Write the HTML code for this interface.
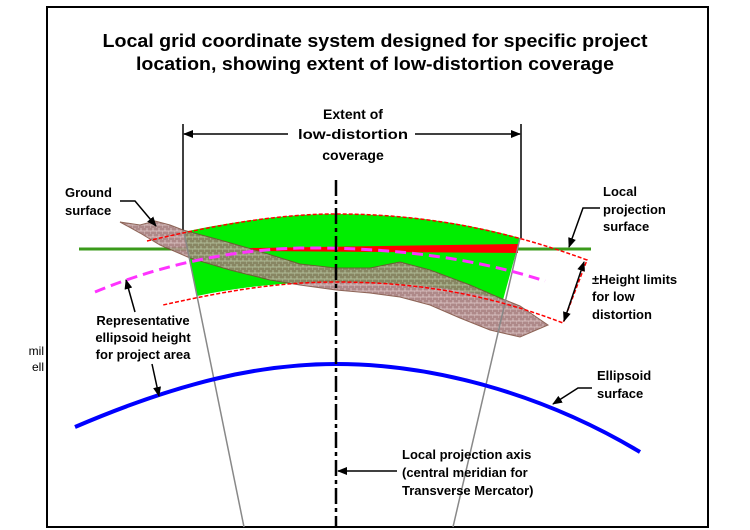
<!DOCTYPE html>
<html><head><style>
html,body{margin:0;padding:0;background:#fff;}
svg{display:block;}
text{font-family:"Liberation Sans",Arial,sans-serif;}
</style></head><body>
<svg width="750" height="530" viewBox="0 0 750 530" xmlns="http://www.w3.org/2000/svg">
<defs>
<pattern id="hatch" width="6" height="6" patternUnits="userSpaceOnUse">
<rect width="6" height="6" fill="#a07575"/>
<path d="M0 3H6M3 0V3M0 6V3" stroke="#dcc4c4" stroke-width="0.8"/>
</pattern>
<marker id="ah" markerWidth="10" markerHeight="8" refX="9" refY="4" orient="auto" markerUnits="userSpaceOnUse">
<path d="M0,0 L10,4 L0,8 Z" fill="#000"/>
</marker>
<marker id="ahs" markerWidth="10" markerHeight="8" refX="1" refY="4" orient="auto" markerUnits="userSpaceOnUse">
<path d="M10,0 L0,4 L10,8 Z" fill="#000"/>
</marker>
</defs>
<rect x="47" y="7" width="661" height="520" fill="none" stroke="#000" stroke-width="2"/>
<text x="44" y="355" font-size="12" text-anchor="end">mil</text>
<text x="44" y="371" font-size="12" text-anchor="end">ell</text>
<text x="375" y="47" font-size="18" font-weight="bold" text-anchor="middle" textLength="545" lengthAdjust="spacingAndGlyphs">Local grid coordinate system designed for specific project</text>
<text x="375" y="70" font-size="18" font-weight="bold" text-anchor="middle" textLength="478" lengthAdjust="spacingAndGlyphs">location, showing extent of low-distortion coverage</text>
<text x="353" y="119" font-size="14" font-weight="bold" text-anchor="middle">Extent of</text>
<text x="353" y="139" font-size="14" font-weight="bold" text-anchor="middle" textLength="110" lengthAdjust="spacingAndGlyphs">low-distortion</text>
<text x="353" y="160" font-size="14" font-weight="bold" text-anchor="middle">coverage</text>
<line x1="183" y1="124" x2="183" y2="232" stroke="#000" stroke-width="1.5"/>
<line x1="521" y1="124" x2="521" y2="238" stroke="#000" stroke-width="1.5"/>
<line x1="288" y1="134" x2="184" y2="134" stroke="#000" stroke-width="1.5" marker-end="url(#ah)"/>
<line x1="415" y1="134" x2="520" y2="134" stroke="#000" stroke-width="1.5" marker-end="url(#ah)"/>
<line x1="79" y1="249" x2="591" y2="249" stroke="#3a9a1a" stroke-width="3"/>
<path d="M183,232 C240,220 290,214 336,214 C410,214 470,224 520,238 L503,300 C460,288 400,282 336,282 C280,282 235,288 197,296 Z" fill="#00ee00"/>
<path d="M250,248 L518,244 L518,253 L250,251 Z" fill="#ff0000"/>
<path d="M120,222 L140,225 L155,221 L170,225 L183,230 L220,240 L255,250 L300,264 L336,268 L370,268 L400,262 L430,270 L470,285 L500,298 L520,306 L548,325 L520,337 L490,330 L460,318 L430,305 L400,297 L370,293 L336,290 L300,285 L270,280 L230,270 L190,258 L160,245 L140,233 Z" fill="url(#hatch)" opacity="0.85" stroke="#7a4a3a" stroke-width="1"/>
<line x1="184" y1="232" x2="244" y2="527" stroke="#888" stroke-width="1.5"/>
<line x1="520" y1="238" x2="453" y2="527" stroke="#888" stroke-width="1.5"/>
<path d="M95,292 C160,265 230,250 300,248 C400,247 480,260 545,281" fill="none" stroke="#ff33ff" stroke-width="3" stroke-dasharray="11,6"/>
<path d="M147,241 C220,224 280,214 336,214 C420,214 500,228 587,260 L563,323 C490,295 420,282 336,282 C280,282 230,290 163,305" fill="none" stroke="#ff0000" stroke-width="1.5" stroke-dasharray="4,2"/>
<path d="M75,427 C180,382 260,364 336,364 C430,364 540,392 640,452" fill="none" stroke="#0000ff" stroke-width="4"/>
<line x1="336" y1="180" x2="336" y2="527" stroke="#000" stroke-width="2.5" stroke-dasharray="16,4,4,4"/>
<text x="65" y="197" font-size="13" font-weight="bold">Ground</text>
<text x="65" y="215" font-size="13" font-weight="bold">surface</text>
<polyline points="120,201 135,201 156,226" fill="none" stroke="#000" stroke-width="1.5" marker-end="url(#ah)"/>
<text x="603" y="196" font-size="13" font-weight="bold">Local</text>
<text x="603" y="214" font-size="13" font-weight="bold">projection</text>
<text x="603" y="231" font-size="13" font-weight="bold">surface</text>
<polyline points="600,208 583,208 569,247" fill="none" stroke="#000" stroke-width="1.5" marker-end="url(#ah)"/>
<text x="592" y="284" font-size="13" font-weight="bold">±Height limits</text>
<text x="592" y="301" font-size="13" font-weight="bold">for low</text>
<text x="592" y="319" font-size="13" font-weight="bold">distortion</text>
<line x1="584" y1="262" x2="564" y2="321" stroke="#000" stroke-width="1.5" marker-end="url(#ah)" marker-start="url(#ahs)"/>
<text x="143" y="325" font-size="13" font-weight="bold" text-anchor="middle">Representative</text>
<text x="143" y="342" font-size="13" font-weight="bold" text-anchor="middle">ellipsoid height</text>
<text x="143" y="359" font-size="13" font-weight="bold" text-anchor="middle">for project area</text>
<line x1="135" y1="312" x2="126" y2="280" stroke="#000" stroke-width="1.5" marker-end="url(#ah)"/>
<line x1="152" y1="364" x2="159" y2="396" stroke="#000" stroke-width="1.5" marker-end="url(#ah)"/>
<text x="597" y="380" font-size="13" font-weight="bold">Ellipsoid</text>
<text x="597" y="398" font-size="13" font-weight="bold">surface</text>
<polyline points="592,388 578,388 553,404" fill="none" stroke="#000" stroke-width="1.5" marker-end="url(#ah)"/>
<text x="402" y="459" font-size="13" font-weight="bold">Local projection axis</text>
<text x="402" y="477" font-size="13" font-weight="bold">(central meridian for</text>
<text x="402" y="495" font-size="13" font-weight="bold">Transverse Mercator)</text>
<line x1="397" y1="471" x2="338" y2="471" stroke="#000" stroke-width="1.5" marker-end="url(#ah)"/>
</svg>
</body></html>
